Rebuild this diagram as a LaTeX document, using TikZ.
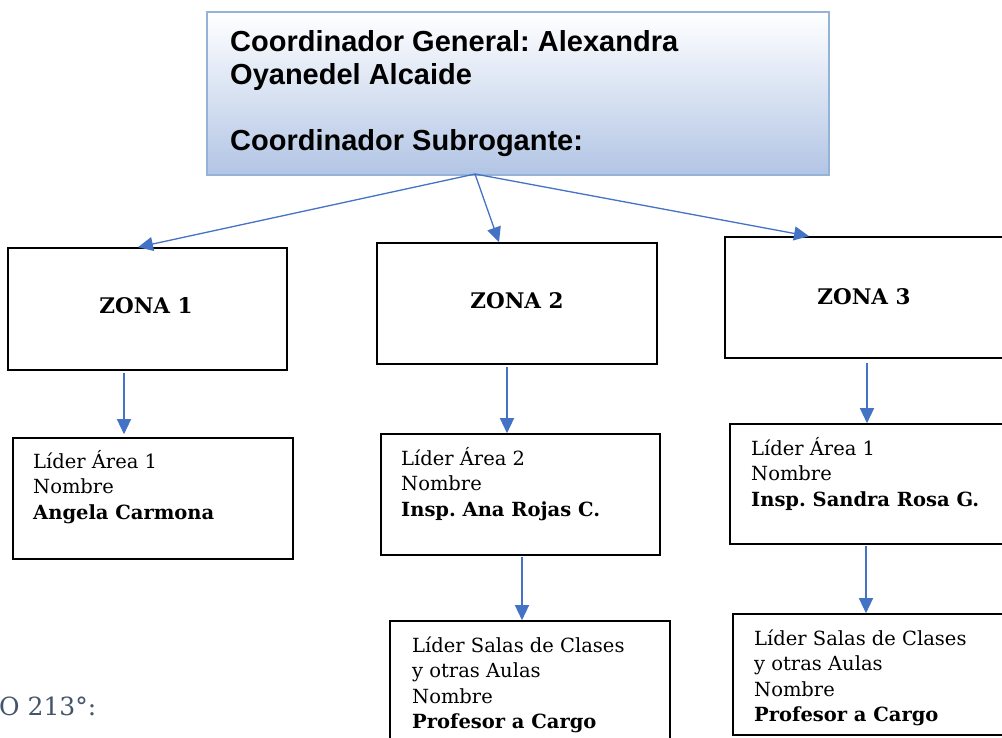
\documentclass[tikz,border=0pt]{standalone}
\usepackage{fontspec}
\setmainfont{DejaVu Serif}
\newfontfamily\arialf{Liberation Sans}
\usetikzlibrary{arrows.meta}
\definecolor{arrblue}{HTML}{4472C4}
\definecolor{topfill}{RGB}{178,197,229}
\definecolor{topedge}{RGB}{149,179,215}
\definecolor{notegray}{HTML}{44546A}
\frenchspacing
\begin{document}
\begin{tikzpicture}[x=1pt,y=-1pt,
  box/.style={draw=black,line width=1.6pt,fill=white,inner sep=0pt,minimum width=280pt,minimum height=121pt},
  zonetxt/.style={font={\fontsize{21.5}{25}\selectfont\bfseries}},
  txt/.style={inner sep=0pt,anchor=base west,align=left,font={\fontsize{19.5}{25.5}\selectfont}},
  arr/.style={draw=arrblue,line width=1.3pt,-{Triangle[length=15pt,width=14pt]}}]
\useasboundingbox (0,0) rectangle (1002,737);
% top box
\node[draw=topedge,line width=2pt,top color=white,bottom color=topfill,minimum width=622pt,minimum height=163pt,inner sep=0pt] (top) at (518,93.5) {};
\node[inner sep=0pt,anchor=base west,font={\arialf\fontsize{29}{33}\selectfont\bfseries}] (toptxt) at (230,51)
  {\vtop{\hbox{Coordinador General: Alexandra}\hbox{Oyanedel Alcaide}\hbox{}\hbox{Coordinador Subrogante:}}};
\coordinate (hub) at (475,174);
% zones
\node[box,minimum width=279pt,minimum height=122pt] (z1) at (147.5,309) {};
\node[box] (z2) at (517,303.5) {};
\node[box] (z3) at (865,297.5) {};
\node[zonetxt] (z1t) at (146,306) {ZONA 1};
\node[zonetxt] (z2t) at (517,301) {ZONA 2};
\node[zonetxt] (z3t) at (864,297) {ZONA 3};
% leaders
\node[box] (l1) at (153,498.5) {};
\node[box,minimum width=279pt] (l2) at (520.5,494.5) {};
\node[box,minimum height=120pt] (l3) at (870,484) {};
\node[box] (s2) at (530,681.5) {};
\node[box] (s3) at (873,674.5) {};
\node[txt] (l1t) at (33,468) {\vtop{\hbox{Líder Área 1}\hbox{Nombre}\hbox{\bfseries Angela Carmona}}};
\node[txt] (l2t) at (401,465) {\vtop{\hbox{Líder Área 2}\hbox{Nombre}\hbox{\bfseries Insp. Ana Rojas C.}}};
\node[txt] (l3t) at (751,455) {\vtop{\hbox{Líder Área 1}\hbox{Nombre}\hbox{\bfseries Insp. Sandra Rosa G.}}};
\node[txt] (s2t) at (412,652) {\vtop{\hbox{Líder Salas de Clases}\hbox{y otras Aulas}\hbox{Nombre}\hbox{\bfseries Profesor a Cargo}}};
\node[txt] (s3t) at (754,645) {\vtop{\hbox{Líder Salas de Clases}\hbox{y otras Aulas}\hbox{Nombre}\hbox{\bfseries Profesor a Cargo}}};
% note
\node[inner sep=0pt,anchor=base west,text=notegray,font={\fontsize{25}{30}\selectfont}] (note) at (-1,715) {O 213°:};
% arrows
\draw[arr] (hub) -- ([xshift=-9.5pt]z1.north);
\draw[arr] (hub) -- ([xshift=-18pt]z2.north);
\draw[arr] (hub) -- ([xshift=-56pt]z3.north);
\draw[arr] ([xshift=-23.5pt,yshift=-2pt]z1.south) -- ([xshift=-29pt,yshift=3pt]l1.north);
\draw[arr] ([xshift=-10pt,yshift=-2pt]z2.south) -- ([xshift=-13.5pt]l2.north);
\draw[arr] ([xshift=2pt,yshift=-4pt]z3.south) -- ([xshift=-3pt]l3.north);
\draw[arr] ([xshift=1.5pt,yshift=-1pt]l2.south) -- ([xshift=-8pt]s2.north);
\draw[arr] ([xshift=-4pt,yshift=-1pt]l3.south) -- ([xshift=-7pt]s3.north);
\end{tikzpicture}
\end{document}
